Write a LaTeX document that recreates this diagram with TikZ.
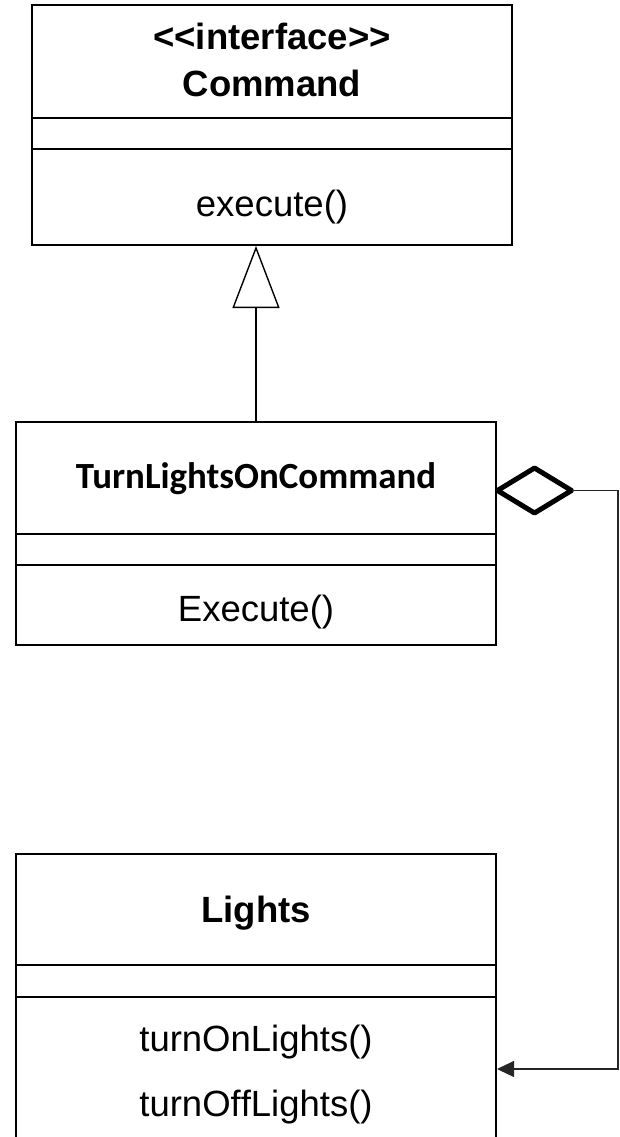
\documentclass[tikz,border=0pt]{standalone}
\usepackage{fontspec}
\setmainfont{Liberation Sans}
\newfontfamily\calibrifont{Carlito}
\usetikzlibrary{arrows.meta}
\tikzset{
  comp/.style={draw, line width=2pt, minimum width=480pt, inner sep=0pt, anchor=north},
  txt/.style={inner sep=0pt, anchor=base, font=\fontsize{36.5}{44}\selectfont},
  conn/.style={line width=1.4pt},
  assoc/.style={line width=1.1pt, draw=black!85},
  diam/.style={line width=5pt, line join=round},
}
\begin{document}
\begin{tikzpicture}[x=1pt,y=-1pt]
\useasboundingbox (0,0) rectangle (619,1137);
% Command
\node[comp, minimum height=113pt] (c1t) at (272,4) {};
\node[comp, minimum height=31pt] (c1a) at (272,117) {};
\node[comp, minimum height=96pt] (c1m) at (272,148) {};
\node[txt] (t1a) at (272,50) {\bfseries <\kern0pt<interface>\kern0pt>};
\node[txt] (t1b) at (272,97) {\bfseries Command};
\node[txt] (t1c) at (272,216) {execute()};
% TurnLightsOnCommand
\node[comp, minimum height=112pt] (c2t) at (256,421) {};
\node[comp, minimum height=31pt] (c2a) at (256,533) {};
\node[comp, minimum height=80pt] (c2m) at (256,564) {};
\node[txt, font=\calibrifont\bfseries\fontsize{36.9}{44}\selectfont] (t2a) at (256,488) {TurnLightsOnCommand};
\node[txt] (t2b) at (256,621) {Execute()};
% Lights
\node[comp, minimum height=111pt] (c3t) at (256,853) {};
\node[comp, minimum height=32pt] (c3a) at (256,964) {};
\node[comp, minimum height=180pt] (c3m) at (256,996) {};
\node[txt] (t3a) at (256,922) {\bfseries Lights};
\node[txt] (t3b) at (256,1051) {turnOnLights()};
\node[txt] (t3c) at (256,1116) {turnOf\kern0ptf\kern0ptLights()};
% generalization
\draw[conn, -{Triangle[open, length=62pt, width=47pt]}] (c2t.north) -- (c2t.north |- c1m.south);
% aggregation diamond
\coordinate (diamL) at (497.5,490.5);
\coordinate (diamR) at (571.5,490.5);
\draw[diam] (diamL) -- ++(37,-22.5) -- (diamR) -- ++(-37,22.5) -- cycle;
% association
\coordinate (corner1) at (618,490.5);
\coordinate (corner2) at (618,1069);
\coordinate (arrend) at (497,1069);
\draw[assoc, -{Triangle[length=17pt, width=16pt]}]
  (diamR) -- (corner1) -- (corner2) -- (arrend);
\end{tikzpicture}
\end{document}
